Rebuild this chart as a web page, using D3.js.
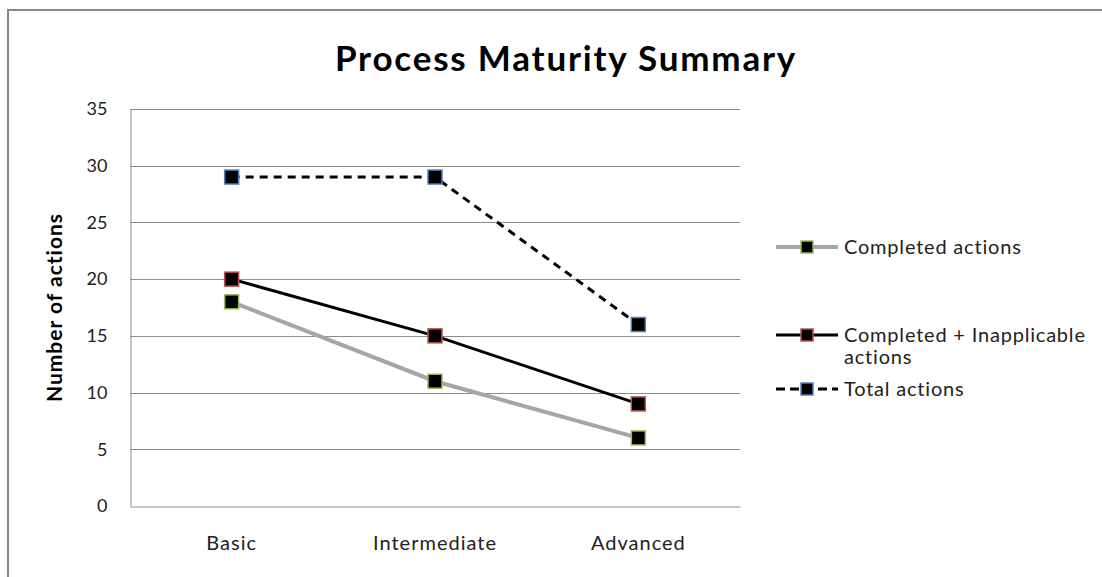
<!DOCTYPE html>
<html>
<head>
<meta charset="utf-8">
<script src="https://cdn.jsdelivr.net/npm/d3@7"></script>
<style>
  html, body { margin: 0; padding: 0; background: #fff; }
  svg { display: block; font-family: Lato, "Open Sans", sans-serif; }
</style>
</head>
<body>
<svg id="chart" width="1102" height="577"></svg>
<script>
// Chart data
const categories = ["Basic", "Intermediate", "Advanced"];
const completed = [18, 11, 6];
const completedInapplicable = [20, 15, 9];
const total = [29, 29, 16];
const yTicks = [0, 5, 10, 15, 20, 25, 30, 35];
const seriesNames = ["Completed actions", "Completed + Inapplicable actions", "Total actions"];

const svg = d3.select("#chart");

// Outer frame (runs past the right and bottom of the view)
svg.append("rect")
  .attr("x", 8).attr("y", 10)
  .attr("width", 1110).attr("height", 600)
  .attr("fill", "#fff").attr("stroke", "#888").attr("stroke-width", 2);

const plot = { left: 130, right: 740, top: 109, bottom: 506 };

const x = d3.scaleBand().domain(categories).range([plot.left, plot.right]);
const y = d3.scaleLinear().domain([0, 35]).range([plot.bottom, plot.top]);

// Title
svg.append("text")
  .attr("x", 566).attr("y", 71)
  .attr("text-anchor", "middle")
  .attr("font-size", 35).attr("font-weight", "bold")
  .attr("letter-spacing", 1.8)
  .attr("fill", "#000")
  .text("Process Maturity Summary");

// Gridlines
svg.append("g").selectAll("line").data(yTicks.filter(d => d > 0)).join("line")
  .attr("x1", plot.left).attr("x2", plot.right)
  .attr("y1", d => Math.round(y(d)) + 0.5).attr("y2", d => Math.round(y(d)) + 0.5)
  .attr("stroke", "#8c8c8c").attr("stroke-width", 1);

// Y axis
const yAxis = svg.append("g")
  .attr("transform", `translate(${plot.left + 0.5},0)`)
  .call(d3.axisLeft(y).tickValues(yTicks).tickSize(0).tickPadding(23));
yAxis.select(".domain").attr("stroke", "#8c8c8c");
yAxis.selectAll("text").attr("font-size", 18).attr("fill", "#222")
  .attr("font-family", "Lato, sans-serif");

// X axis
const xAxis = svg.append("g")
  .attr("transform", `translate(0,${Math.round(plot.bottom) + 0.5})`)
  .call(d3.axisBottom(x).tickSize(0).tickPadding(29));
xAxis.select(".domain").attr("stroke", "#8c8c8c");
xAxis.selectAll("text").attr("font-size", 20).attr("fill", "#222")
  .attr("letter-spacing", 1)
  .attr("font-family", "Lato, sans-serif");

// Y axis title
svg.append("text")
  .attr("transform", `translate(62,${(plot.top + plot.bottom) / 2}) rotate(-90)`)
  .attr("text-anchor", "middle")
  .attr("font-size", 21).attr("font-weight", "bold").attr("fill", "#000")
  .attr("letter-spacing", 1)
  .text("Number of actions");

const styles = [
  { values: completed, stroke: "#a6a6a6", width: 4, dash: null, edge: "#9bbb59" },
  { values: completedInapplicable, stroke: "#000", width: 3, dash: null, edge: "#c0504d" },
  { values: total, stroke: "#000", width: 3, dash: "8,6", edge: "#4f81bd" }
];

const cx = d => x(d) + x.bandwidth() / 2;
const line = d3.line().x((d, i) => cx(categories[i])).y(d => y(d));

styles.forEach(s => {
  svg.append("path")
    .attr("d", line(s.values))
    .attr("fill", "none")
    .attr("stroke", s.stroke).attr("stroke-width", s.width)
    .attr("stroke-dasharray", s.dash);
});

const M = 14;
styles.forEach(s => {
  svg.append("g").selectAll("rect").data(s.values).join("rect")
    .attr("x", (d, i) => cx(categories[i]) - M / 2)
    .attr("y", d => y(d) - M / 2)
    .attr("width", M).attr("height", M)
    .attr("fill", "#000").attr("stroke", s.edge).attr("stroke-width", 1.5);
});

// Legend
const legendRows = [
  { y: 247, lines: ["Completed actions"] },
  { y: 335, lines: ["Completed + Inapplicable", "actions"] },
  { y: 389, lines: ["Total actions"] }
];
legendRows.forEach((r, i) => {
  const s = styles[i];
  const g = svg.append("g");
  g.append("line")
    .attr("x1", 776).attr("x2", 838).attr("y1", r.y).attr("y2", r.y)
    .attr("stroke", s.stroke).attr("stroke-width", s.width)
    .attr("stroke-dasharray", s.dash ? "9,5" : null);
  g.append("rect")
    .attr("x", 807 - 6).attr("y", r.y - 6).attr("width", 12).attr("height", 12)
    .attr("fill", "#000").attr("stroke", s.edge).attr("stroke-width", 1.5);
  r.lines.forEach((t, j) => {
    g.append("text")
      .attr("x", 844).attr("y", r.y + 7 + j * 22)
      .attr("font-size", 20).attr("fill", "#222")
      .attr("letter-spacing", 0.8)
      .text(t);
  });
});
</script>
</body>
</html>
